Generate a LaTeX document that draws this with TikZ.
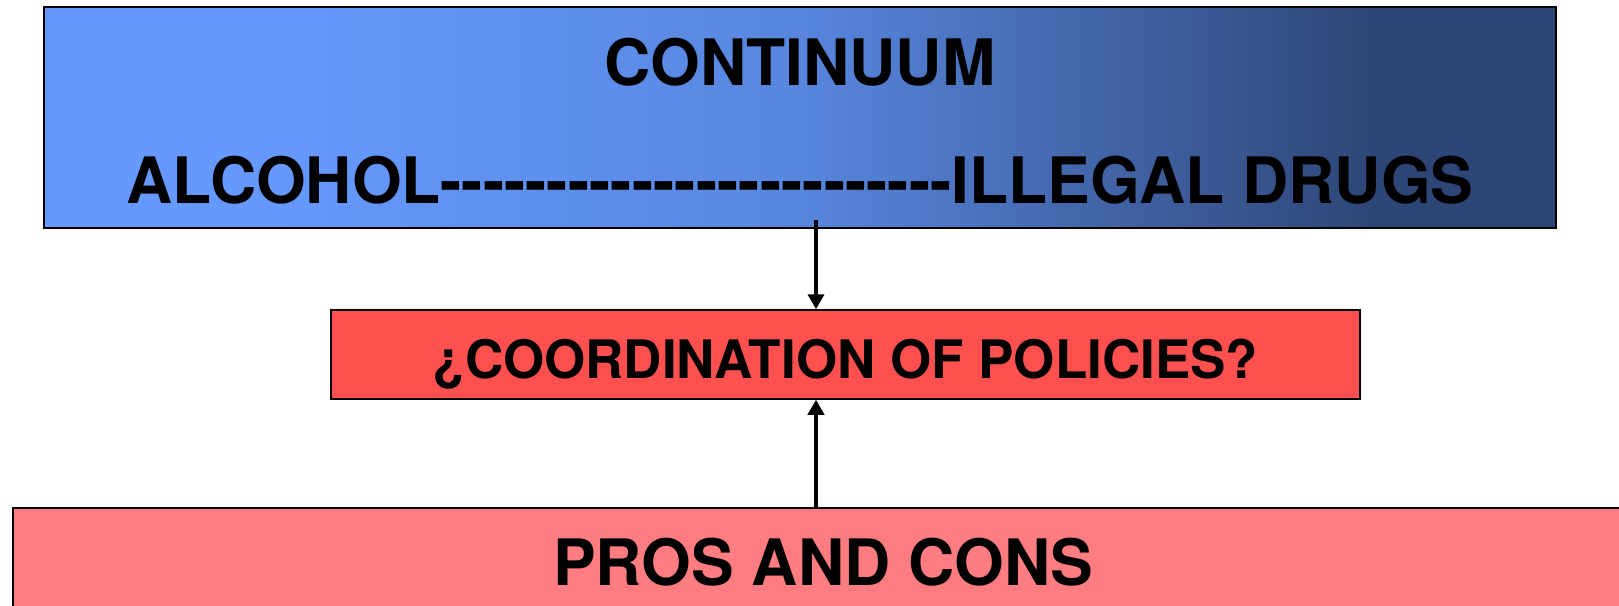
\documentclass[tikz,border=0pt]{standalone}
\usepackage{fontspec}
\setmainfont{TeX Gyre Heros}[Ligatures=TeXOff]
\usetikzlibrary{arrows.meta}
\definecolor{blueleft}{RGB}{102,153,255}
\definecolor{bluemid}{RGB}{88,134,222}
\definecolor{bluedark}{RGB}{46,70,118}
\definecolor{policyred}{RGB}{255,80,80}
\definecolor{prosred}{RGB}{255,124,128}
\pgfdeclarehorizontalshading{continuum}{100bp}{color(0bp)=(blueleft); color(32.5bp)=(blueleft); color(50bp)=(bluemid); color(69bp)=(bluedark); color(100bp)=(bluedark)}

\begin{document}
\begin{tikzpicture}[x=1pt,y=-1pt]
\tikzset {box/.style={draw=black,line width=1.5pt,inner sep=0pt},
          title/.style={font=\bfseries\fontsize{64}{64}\selectfont,anchor=base,inner sep=0pt},
          link/.style={line width=4.5pt,-{Triangle[width=16pt,length=15pt]}}}
\useasboundingbox (0,0) rectangle (1619,605);
\node[box,shade,shading=continuum,minimum width=1512pt,minimum height=221pt] (top) at (800,117.5) {};
\node[box,fill=policyred,minimum width=1029pt,minimum height=89pt] (mid) at (845.5,354.5) {};
\node[box,fill=prosred,minimum width=1627pt,minimum height=132pt] (low) at (826.5,574) {};
\node[title] (cont) at (800,85) {CONTINUUM};
\node[title] (range) at (800,203) {ALCOHOL------------------------ILLEGAL DRUGS};
\node[title,font=\bfseries\fontsize{53}{53}\selectfont] (coord) at (845.5,378) {¿COORDINATION OF POLICIES?};
\node[title] (pros) at (823,585) {PROS AND CONS};
\coordinate (c1) at (816,220);
\draw[link] (c1) -- (c1 |- mid.north);
\draw[link] (c1 |- low.north) -- (c1 |- mid.south);
\end{tikzpicture}
\end{document}
